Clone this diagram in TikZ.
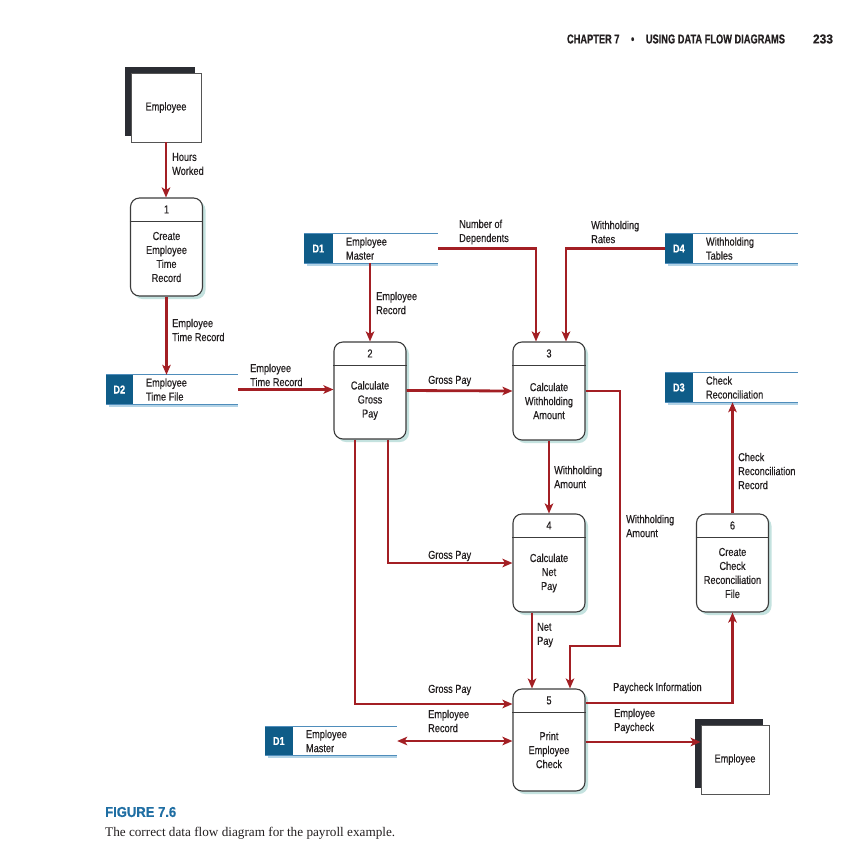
\documentclass[tikz,border=0pt]{standalone}
\usepackage{fontspec}
\usepackage{graphicx}
\setmainfont{Liberation Sans}[FakeStretch=0.8, FakeBold=0.4]
\newfontfamily\serifcap{Liberation Serif}
\usetikzlibrary{arrows.meta,shadows}
\definecolor{flowred}{HTML}{A31F24}
\definecolor{boxline}{HTML}{3C3C3C}
\definecolor{procshadow}{HTML}{C4E2DF}
\definecolor{extdark}{HTML}{2B2D33}
\definecolor{extline}{HTML}{555555}
\definecolor{storedark}{HTML}{0F5C88}
\definecolor{storeline}{HTML}{4F8DBB}
\definecolor{storeshadow}{HTML}{B3D3E6}
\definecolor{txt}{HTML}{231F20}
\definecolor{figblue}{HTML}{1F6EA3}

\newcommand\dfdproc[5]{%
  \node[proc, minimum height=#3] (#1) at (#2) {};
  \draw[hdrline] ([yshift=-23.5pt]#1.north west) -- ([yshift=-23.5pt]#1.north east);
  \node (#1num) at ([yshift=-12pt]#1.north) {#4};
  \node[align=center] (#1txt) at ([yshift=-10pt]#1.center) {#5};
}
\newcommand\dfdstore[6]{%
  \node[minimum width=#3, minimum height=29pt] (#1) at (#2) {};
  \fill[storeshadow] ([xshift=3pt]#1.south west) rectangle ([yshift=-2.5pt]#1.south east);
  \fill[storedark] (#1.north west) rectangle ([xshift=#4]#1.south west);
  \draw[storeln] (#1.north west) -- (#1.north east) (#1.south west) -- (#1.south east);
  \node[text=white] (#1id) at ([xshift=#4/2]#1.west) {\bfseries #5};
  \node[anchor=west, align=left] (#1txt) at ([xshift=#4+13pt]#1.west) {#6};
}

\begin{document}
\begin{tikzpicture}[x=1pt,y=-1pt,
  every node/.style={font=\fontsize{11.5}{14}\selectfont, text=txt, inner sep=0pt},
  proc/.style={draw=boxline, line width=1.1pt, rounded corners=9pt, fill=white,
    minimum width=72pt,
    general shadow={fill=procshadow, shadow xshift=3pt, shadow yshift=-3pt}},
  hdrline/.style={draw=boxline, line width=0.9pt},
  ext/.style={draw=extline, line width=0.8pt, fill=white, minimum width=70pt,
    minimum height=69pt,
    general shadow={fill=extdark, shadow xshift=-6pt, shadow yshift=6pt}},
  storeln/.style={draw=storeline, line width=1.3pt},
  flow/.style={draw=flowred, line width=2.8pt,
    -{Stealth[length=10pt,width=8.5pt,inset=2.5pt]}},
  bflow/.style={draw=flowred, line width=2.8pt,
    {Stealth[length=10pt,width=8.5pt,inset=2.5pt]}-{Stealth[length=10pt,width=8.5pt,inset=2.5pt]}},
  lbl/.style={anchor=west, align=left},
]
\fill[white] (0,0) rectangle (848,855);
\useasboundingbox (0,0) rectangle (848,855);

% header
\node (hdr) at (676,39) {\resizebox{218pt}{9pt}{\bfseries CHAPTER 7\quad •\quad USING DATA FLOW DIAGRAMS}};
\node (pg) at (823,39) {\resizebox{20pt}{9pt}{\bfseries 233}};

% external entities
\node[ext] (emp1) at (166,107.5) {Employee};
\node[ext, minimum width=68pt] (emp2) at (735,759.5) {Employee};

% processes
\dfdproc{p1}{166.5,247}{98pt}{1}{Create\\Employee\\Time\\Record}
\dfdproc{p2}{370,390.5}{97pt}{2}{Calculate\\Gross\\Pay}
\dfdproc{p3}{549,391}{98pt}{3}{Calculate\\Withholding\\Amount}
\dfdproc{p4}{549,563}{98pt}{4}{Calculate\\Net\\Pay}
\dfdproc{p5}{549,740}{102pt}{5}{Print\\Employee\\Check}
\dfdproc{p6}{732.5,563}{98pt}{6}{Create\\Check\\Reconciliation\\File}

% data stores
\dfdstore{d1}{371,248.5}{134pt}{29pt}{D1}{Employee\\Master}
\dfdstore{d4}{731.5,248.5}{133pt}{28pt}{D4}{Withholding\\Tables}
\dfdstore{d2}{172,389.5}{132pt}{27pt}{D2}{Employee\\Time File}
\dfdstore{d3}{731.5,387.5}{133pt}{28pt}{D3}{Check\\Reconciliation}
\dfdstore{d1b}{331,741}{132pt}{28pt}{D1}{Employee\\Master}

% flows
\draw[flow] (emp1.south) -- (emp1.south |- p1.north);
\draw[flow] (p1.south) -- (p1.south |- d2.north);
\draw[flow] (d2.east) -- (d2.east -| p2.west);
\draw[flow] (p2.north |- d1.south) -- (p2.north);
\draw[flow] (d1.east) -| ([xshift=-13pt]p3.north);
\draw[flow] (d4.west) -| ([xshift=17pt]p3.north);
\draw[flow] (p2.east) -- (p3.west);
\draw[flow] (p3.south) -- (p4.north);
\coordinate (wa) at (620,646);
\draw[flow] (p3.east) -| (wa) -| ([xshift=21pt]p5.north);
\draw[flow] ([xshift=18pt]p2.south) |- (p4.west);
\draw[flow] ([xshift=-15pt]p2.south) |- ([yshift=36pt]p5.west);
\draw[flow] ([xshift=-17pt]p4.south) -- ([xshift=-17pt]p5.north);
\draw[flow] ([yshift=37pt]p5.east) -| (p6.south);
\draw[flow] (p6.north) -- (p6.north |- d3.south);
\draw[bflow] (d1b.east) -- (d1b.east -| p5.west);
\draw[flow] ([yshift=-2pt]p5.east) -- ([yshift=-2pt]p5.east -| emp2.west);

% labels
\node[lbl] (l1) at (172,164) {Hours\\Worked};
\node[lbl] (l2) at (172,330) {Employee\\Time Record};
\node[lbl] (l3) at (250,375) {Employee\\Time Record};
\node[lbl] (l4) at (376,303) {Employee\\Record};
\node[lbl] (l5) at (459,232) {Number of\\Dependents};
\node[lbl] (l6) at (591,232) {Withholding\\Rates};
\node[lbl] (l7) at (428,381) {Gross Pay};
\node[lbl] (l8) at (554,477) {Withholding\\Amount};
\node[lbl] (l9) at (626,526) {Withholding\\Amount};
\node[lbl] (l10) at (738,471) {Check\\Reconciliation\\Record};
\node[lbl] (l11) at (428,556) {Gross Pay};
\node[lbl] (l12) at (537,635) {Net\\Pay};
\node[lbl] (l13) at (428,690) {Gross Pay};
\node[lbl] (l14) at (613,688) {Paycheck Information};
\node[lbl] (l15) at (428,721) {Employee\\Record};
\node[lbl] (l16) at (614,721) {Employee\\Paycheck};

% caption
\node[anchor=west, text=figblue] (figt) at (105,812) {\resizebox{71pt}{10pt}{\bfseries FIGURE 7.6}};
\node[anchor=west] (cap) at (105,833) {\resizebox{290pt}{!}{\serifcap The correct data flow diagram for the payroll example.}};
\end{tikzpicture}
\end{document}
